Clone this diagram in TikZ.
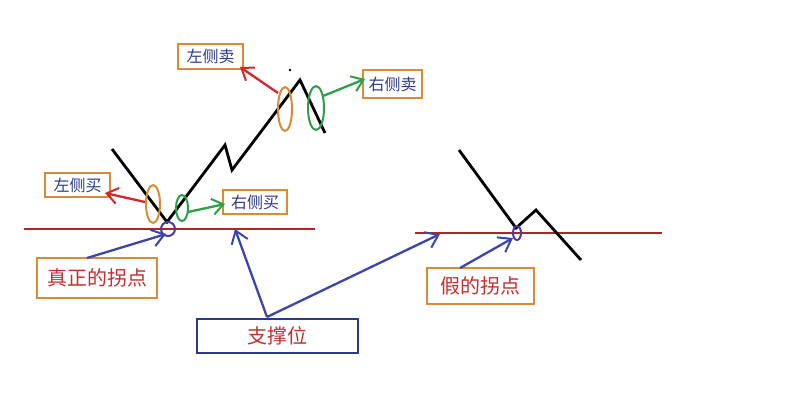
\documentclass[tikz,border=0pt]{standalone}
\usepackage{fontspec}
\newfontfamily\cjk{Noto Sans CJK SC}
\usetikzlibrary{arrows.meta}
\definecolor{lineRed}{HTML}{B52226}
\definecolor{arrRed}{HTML}{D2282A}
\definecolor{arrGreen}{HTML}{2E9E48}
\definecolor{arrBlue}{HTML}{3C46A8}
\definecolor{boxOrange}{HTML}{D98C34}
\definecolor{txtBlue}{HTML}{2C3A88}
\definecolor{txtRed}{HTML}{C0302E}
\definecolor{circPurple}{HTML}{4B3C9E}
\tikzset{
  smallbox/.style={draw=boxOrange, line width=2.5pt, text=txtBlue, font=\cjk\fontsize{16}{16}\selectfont, inner sep=0pt},
  bigbox/.style={draw=boxOrange, line width=2.5pt, text=txtRed, font=\cjk\fontsize{20}{20}\selectfont, inner sep=0pt},
  bluebox/.style={draw=txtBlue, line width=2.5pt, text=txtRed, font=\cjk\fontsize{20}{20}\selectfont, inner sep=0pt},
  priceline/.style={black, line width=2.8pt, line join=miter},
  support/.style={lineRed, line width=2.2pt},
  redarr/.style={arrRed, line width=2.3pt, -{Straight Barb[length=11pt,width=16pt,line width=2pt]}},
  greenarr/.style={arrGreen, line width=2.3pt, -{Straight Barb[length=11pt,width=16pt,line width=2pt]}},
  bluearr/.style={arrBlue, line width=2.3pt, -{Straight Barb[length=12pt,width=17pt,line width=2pt]}},
  orangeell/.style={boxOrange, line width=2pt},
  greenell/.style={arrGreen, line width=2pt},
  purpleell/.style={circPurple, line width=2pt},
}
\begin{document}
\begin{tikzpicture}[x=1pt,y=-1pt]
\useasboundingbox (0,0) rectangle (800,408);
\fill[white] (0,0) rectangle (800,408);
% support lines
\draw[support] (24,229) -- (315,229);
\draw[support] (415,233) -- (662,233);
% price lines
\draw[priceline] (112,149) -- (167,222) -- (225,145) -- (232,170) -- (300,80) -- (325,133);
\draw[priceline] (459,150) -- (516,228) -- (536,210) -- (581,260);
\fill[black] (290,70) circle (1.3);
% ellipses
\draw[orangeell] (153,204) ellipse (7 and 19);
\draw[greenell] (182,208) ellipse (6 and 13);
\draw[orangeell] (285,109) ellipse (7 and 22);
\draw[greenell] (316,108) ellipse (8 and 22);
\draw[purpleell] (168,229) circle (7);
\draw[purpleell] (517,233) ellipse (4 and 7);
% boxes
\node[smallbox, minimum width=65, minimum height=24] (lb) at (77.5,185) {左侧买};
\node[smallbox, minimum width=64, minimum height=24] (rb) at (255,202) {右侧买};
\node[smallbox, minimum width=65, minimum height=25] (ls) at (210.5,56.5) {左侧卖};
\node[smallbox, minimum width=59, minimum height=28] (rs) at (392.5,84) {右侧卖};
\node[bigbox, minimum width=120, minimum height=40] (real) at (97,278) {真正的拐点};
\node[bluebox, minimum width=161, minimum height=34] (sup) at (277.5,336) {支撑位};
\node[bigbox, minimum width=107, minimum height=36] (fake) at (480.5,286) {假的拐点};
% arrow coordinates
\coordinate (lbS) at (145,202);
\coordinate (lbT) at (105,193);
\coordinate (rbS) at (188,212);
\coordinate (rbT) at (225,204);
\coordinate (lsS) at (278,93);
\coordinate (lsT) at (240,67);
\coordinate (rsS) at (323,96);
\coordinate (rsT) at (365,79);
\coordinate (realS) at (87,258);
\coordinate (realT) at (166,234);
\coordinate (supS) at (267,317);
\coordinate (supT1) at (235,229);
\coordinate (supT2) at (440,234);
\coordinate (fakeS) at (460,268);
\coordinate (fakeT) at (513,238);
% arrows
\draw[redarr] (lbS) -- (lbT);
\draw[greenarr] (rbS) -- (rbT);
\draw[redarr] (lsS) -- (lsT);
\draw[greenarr] (rsS) -- (rsT);
\draw[bluearr] (realS) -- (realT);
\draw[bluearr] (supS) -- (supT1);
\draw[bluearr] (supS) -- (supT2);
\draw[bluearr] (fakeS) -- (fakeT);
\end{tikzpicture}
\end{document}
